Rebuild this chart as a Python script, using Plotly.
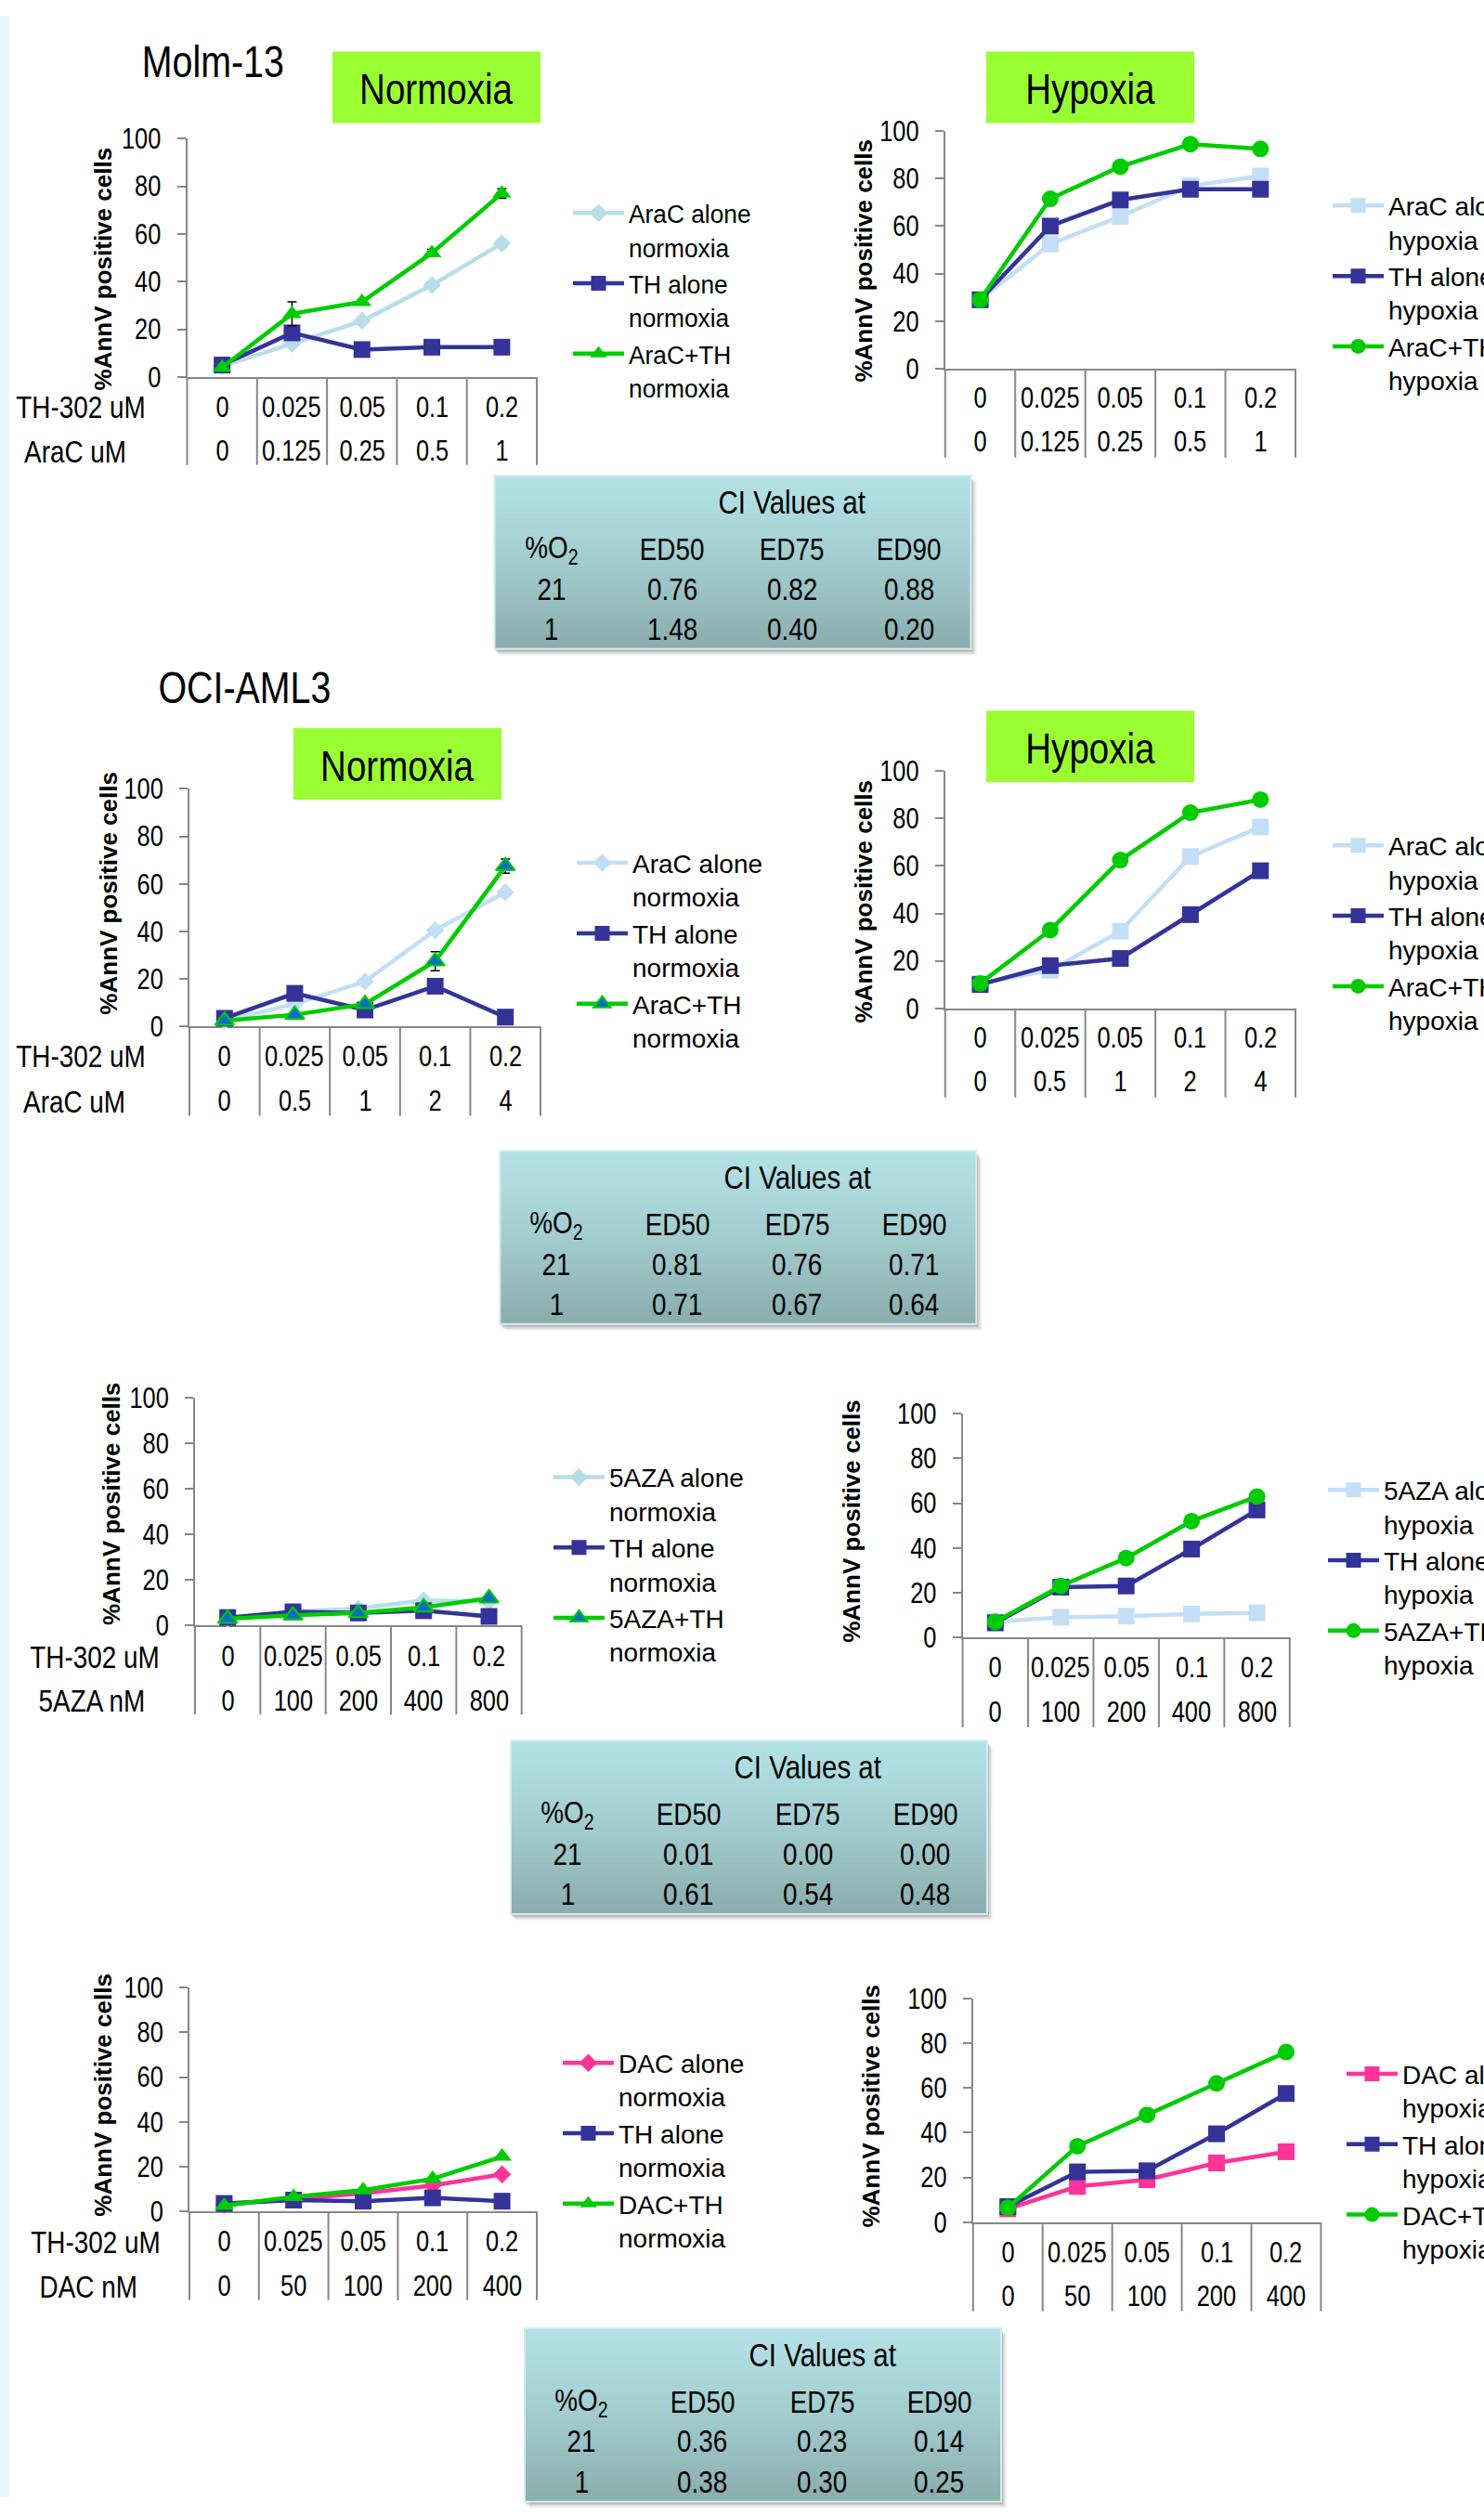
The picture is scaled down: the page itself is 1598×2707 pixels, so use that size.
import plotly.graph_objects as go

W, H = 1598, 2707          # visible page
FW = 1700                  # figure canvas (wider, cropped to the page like the reference)
# text tagged "Narrow" is condensed horizontally (Arial-Narrow-like look) by the post script
NARROW = "Liberation Sans Narrow, Liberation Sans, Arial, sans-serif"
SANS = "Liberation Sans, Arial, sans-serif"
AX = "#878787"
GREEN = "#00CC00"
NAVY = "#333399"
TEAL = "#B7DEE8"
SKY = "#C3DEF7"
PINK = "#FF3399"
ROYAL = "#0070C0"
LIME = "#99FF33"

# ---------------- data ----------------
th302_uM = ["0", "0.025", "0.05", "0.1", "0.2"]
molm_arac_uM = ["0", "0.125", "0.25", "0.5", "1"]
oci_arac_uM = ["0", "0.5", "1", "2", "4"]
aza_nM = ["0", "100", "200", "400", "800"]
dac_nM = ["0", "50", "100", "200", "400"]

molm_norm_arac = [4.5, 14, 23.5, 38.5, 56]
molm_norm_arac_err = [0.5, 0.5, 0.5, 0.5, 1.5]
molm_norm_th = [5, 18.5, 11.5, 12.5, 12.5]
molm_norm_combo = [4, 26.5, 31.5, 52, 77]
molm_norm_combo_err = [0.5, 5, 1, 1.5, 2]

molm_hyp_arac = [29, 52.5, 64, 77, 81]
molm_hyp_th = [29, 60, 71, 75.5, 75.5]
molm_hyp_combo = [29, 71.5, 85, 94.5, 92.5]

oci_norm_arac = [2.5, 9.5, 19, 40.5, 56.5]
oci_norm_th = [3.5, 14, 7, 17, 4]
oci_norm_combo = [2.5, 5, 9.5, 27.5, 67.5]
oci_norm_combo_err = [0.5, 0.5, 0.5, 4, 3]

oci_hyp_arac = [10.5, 16, 32.5, 64, 76.5]
oci_hyp_th = [10, 18, 21, 39.5, 58]
oci_hyp_combo = [10.5, 33, 62.5, 82.5, 88]

aza_norm_aza = [3, 6, 7.5, 11, 10.5]
aza_norm_th = [3.5, 6, 5.5, 6.5, 4]
aza_norm_combo = [3, 4.5, 5.5, 8, 12]

aza_hyp_aza = [7, 9, 9.5, 10.5, 11]
aza_hyp_th = [6.5, 22.5, 23, 39.5, 57]
aza_hyp_combo = [7, 23, 35.5, 52, 63]

dac_norm_dac = [3, 5.5, 8, 11.5, 16.5]
dac_norm_th = [3.5, 5, 4.5, 6, 4.5]
dac_norm_combo = [2.5, 6.5, 9.5, 14.5, 24.5]

dac_hyp_dac = [6, 16, 19, 26.5, 31.5]
dac_hyp_th = [7, 22.5, 23, 39.5, 57.5]
dac_hyp_combo = [6.5, 34, 48, 62, 76]

y_ticks = [0, 20, 40, 60, 80, 100]

ci_header = ["%O<sub>2</sub>", "ED50", "ED75", "ED90"]
ci_o2 = ["21", "1"]
ci_molm = [["0.76", "0.82", "0.88"], ["1.48", "0.40", "0.20"]]
ci_oci = [["0.81", "0.76", "0.71"], ["0.71", "0.67", "0.64"]]
ci_aza = [["0.01", "0.00", "0.00"], ["0.61", "0.54", "0.48"]]
ci_dac = [["0.36", "0.23", "0.14"], ["0.38", "0.30", "0.25"]]


def px(x):
    return x / FW


def py(y):
    return 1 - y / H


SIZES = {"diamond": 15, "square": 18, "triangle-up": 18, "circle": 18}

panels = [
    dict(k=1, box=(201.5, 578, 134, 394, 490), rows=(427, 475), drug=molm_arac_uM,
         row_labels=[("TH-302 uM", 87), ("AraC uM", 81)], ytitle=(111, 276), legend=(618, 215),
         series=[("AraC alone<br>normoxia", molm_norm_arac, molm_norm_arac_err, TEAL, "diamond", TEAL, None),
                 ("TH alone<br>normoxia", molm_norm_th, None, NAVY, "square", NAVY, None),
                 ("AraC+TH<br>normoxia", molm_norm_combo, molm_norm_combo_err, GREEN, "triangle-up", GREEN, None)]),
    dict(k=2, box=(1017.8, 1395, 125.7, 385, 482), rows=(417, 465), drug=molm_arac_uM,
         row_labels=[], ytitle=(930, 267), legend=(1436, 207),
         series=[("AraC alone<br>hypoxia", molm_hyp_arac, None, SKY, "square", SKY, None),
                 ("TH alone<br>hypoxia", molm_hyp_th, None, NAVY, "square", NAVY, None),
                 ("AraC+TH<br>hypoxia", molm_hyp_combo, None, GREEN, "circle", GREEN, None)]),
    dict(k=3, box=(204, 582, 843.3, 1102.7, 1200), rows=(1135, 1184), drug=oci_arac_uM,
         row_labels=[("TH-302 uM", 87), ("AraC uM", 80)], ytitle=(117, 957), legend=(622, 924),
         series=[("AraC alone<br>normoxia", oci_norm_arac, None, SKY, "diamond", SKY, None),
                 ("TH alone<br>normoxia", oci_norm_th, None, NAVY, "square", NAVY, None),
                 ("AraC+TH<br>normoxia", oci_norm_combo, oci_norm_combo_err, GREEN, "triangle-up", ROYAL, GREEN)]),
    dict(k=4, box=(1017.8, 1395, 824, 1082.7, 1180), rows=(1115, 1163), drug=oci_arac_uM,
         row_labels=[], ytitle=(930, 966), legend=(1436, 905),
         series=[("AraC alone<br>hypoxia", oci_hyp_arac, None, SKY, "square", SKY, None),
                 ("TH alone<br>hypoxia", oci_hyp_th, None, NAVY, "square", NAVY, None),
                 ("AraC+TH<br>hypoxia", oci_hyp_combo, None, GREEN, "circle", GREEN, None)]),
    dict(k=5, box=(210, 561.7, 1507.7, 1756, 1853), rows=(1790, 1838), drug=aza_nM,
         row_labels=[("TH-302 uM", 102), ("5AZA nM", 98.5)], ytitle=(120, 1623), legend=(597, 1594),
         series=[("5AZA alone<br>normoxia", aza_norm_aza, None, TEAL, "diamond", TEAL, None),
                 ("TH alone<br>normoxia", aza_norm_th, None, NAVY, "square", NAVY, None),
                 ("5AZA+TH<br>normoxia", aza_norm_combo, None, GREEN, "triangle-up", ROYAL, GREEN)]),
    dict(k=6, box=(1036.6, 1388.8, 1525, 1769, 1867), rows=(1802, 1850), drug=aza_nM,
         row_labels=[], ytitle=(917, 1642), legend=(1431, 1608),
         series=[("5AZA alone<br>hypoxia", aza_hyp_aza, None, SKY, "square", SKY, None),
                 ("TH alone<br>hypoxia", aza_hyp_th, None, NAVY, "square", NAVY, None),
                 ("5AZA+TH<br>hypoxia", aza_hyp_combo, None, GREEN, "circle", GREEN, None)]),
    dict(k=7, box=(204, 578, 2151, 2395, 2492), rows=(2428, 2477), drug=dac_nM,
         row_labels=[("TH-302 uM", 103), ("DAC nM", 94.5)], ytitle=(111, 2268), legend=(607, 2233),
         series=[("DAC alone<br>normoxia", dac_norm_dac, None, PINK, "diamond", PINK, None),
                 ("TH alone<br>normoxia", dac_norm_th, None, NAVY, "square", NAVY, None),
                 ("DAC+TH<br>normoxia", dac_norm_combo, None, GREEN, "triangle-up", GREEN, None)]),
    dict(k=8, box=(1047.8, 1422.4, 2162.7, 2407, 2504), rows=(2440, 2488), drug=dac_nM,
         row_labels=[], ytitle=(938, 2280), legend=(1451, 2245),
         series=[("DAC alone<br>hypoxia", dac_hyp_dac, None, PINK, "square", PINK, None),
                 ("TH alone<br>hypoxia", dac_hyp_th, None, NAVY, "square", NAVY, None),
                 ("DAC+TH<br>hypoxia", dac_hyp_combo, None, GREEN, "circle", GREEN, None)]),
]

fig = go.Figure()
shapes = []
annotations = []
layout = dict(
    width=FW, height=H, margin=dict(l=0, r=0, t=0, b=0),
    paper_bgcolor="white", plot_bgcolor="rgba(0,0,0,0)", showlegend=True,
)


def ann(text, x, y, size, family=NARROW, xref="paper", yref="paper", **kw):
    d = dict(text=text, x=x, y=y, xref=xref, yref=yref, showarrow=False,
             font=dict(family=family, size=size, color="black"),
             xanchor="center", yanchor="middle")
    d.update(kw)
    annotations.append(d)


# left light strip
shapes.append(dict(type="rect", xref="paper", yref="paper", x0=0, x1=px(10), y0=0, y1=1,
                   fillcolor="#EAF5FB", line=dict(width=0), layer="below"))

for p in panels:
    k = p["k"]
    sfx = "" if k == 1 else str(k)
    left, right, top, bottom, lbot = p["box"]
    layout["xaxis" + sfx] = dict(
        domain=[px(left), px(right)], type="category", categoryorder="array",
        categoryarray=th302_uM, range=[-0.5, 4.5], showline=True, linecolor=AX, linewidth=2,
        showticklabels=False, ticks="", showgrid=False, zeroline=False, anchor="y" + sfx,
        layer="below traces", fixedrange=True)
    layout["yaxis" + sfx] = dict(
        domain=[py(bottom), py(top)], range=[0, 100], tickvals=y_ticks, ticks="outside",
        ticklen=9, tickwidth=2, tickcolor=AX, showline=True, linecolor=AX, linewidth=2,
        showgrid=False, zeroline=False, anchor="x" + sfx, ticklabelstandoff=11,
        tickfont=dict(family=NARROW, size=31, color="black"), layer="below traces", fixedrange=True)
    lname = "legend" + sfx
    lx, ly = p["legend"]
    layout[lname] = dict(x=px(lx - 6), y=py(ly - 25), xanchor="left", yanchor="top",
                         bgcolor="rgba(0,0,0,0)", borderwidth=0, valign="top", itemwidth=55,
                         tracegroupgap=0, traceorder="normal",
                         font=dict(family=SANS, size=28, color="black"))
    for name, ys, err, lc, sym, fill, edge in p["series"]:
        mk = dict(symbol=sym, size=SIZES[sym], color=fill,
                  line=dict(color=edge if edge else fill, width=2 if edge else 0))
        tr = go.Scatter(x=th302_uM, y=ys, mode="lines+markers", name=name,
                        line=dict(color=lc, width=4.5), marker=mk, cliponaxis=False,
                        xaxis="x" + sfx, yaxis="y" + sfx, legend=lname)
        if err is not None:
            tr.error_y = dict(type="data", array=err, visible=True, color="black",
                              thickness=1.5, width=5)
        fig.add_trace(tr)
    # table grid lines below the x axis
    ph = bottom - top
    for i in range(6):
        shapes.append(dict(type="line", xref="x" + sfx + " domain", yref="y" + sfx + " domain",
                           x0=i / 5, x1=i / 5, y0=0, y1=-(lbot - bottom) / ph,
                           line=dict(color=AX, width=2)))
    r1, r2 = p["rows"]
    for i in range(5):
        ann(th302_uM[i], i, py(r1), 31, xref="x" + sfx)
        ann(p["drug"][i], i, py(r2), 31, xref="x" + sfx)
    for (txt, cx), ry in zip(p["row_labels"], (r1, r2)):
        ann(txt, px(cx), py(ry), 34)
    tx, ty = p["ytitle"]
    ann("<b>%AnnV positive cells</b>", px(tx), py(ty), 26, family=SANS, textangle=-90)

# cell line titles
ann("Molm-13", px(230), py(50), 48)
ann("OCI-AML3", px(263), py(733), 48)

# condition boxes
for label, (x0, x1, y0, y1) in [("Normoxia", (358, 582, 39, 117)), ("Hypoxia", (1062, 1286, 39, 117)),
                                ("Normoxia", (316, 540, 777, 855)), ("Hypoxia", (1062, 1286, 758, 836))]:
    shapes.append(dict(type="rect", xref="paper", yref="paper", x0=px(x0), x1=px(x1),
                       y0=py(y1), y1=py(y0), fillcolor=LIME, line=dict(width=0)))
    ann(label, px((x0 + x1) / 2), py((y0 + y1) / 2 + 2), 47)


def lerp(c0, c1, t):
    return "rgb(%d,%d,%d)" % tuple(round(a + (b - a) * t) for a, b in zip(c0, c1))


def ci_table(left, top, vals, w=513, h=189):
    for off, alpha in [(7, 0.06), (5, 0.10), (3, 0.14)]:
        shapes.append(dict(type="rect", xref="paper", yref="paper", x0=px(left + off - 2),
                           x1=px(left + w + off - 1), y0=py(top + h + off), y1=py(top + off),
                           fillcolor="rgba(0,0,0,%.2f)" % alpha, line=dict(width=0)))
    n = 40
    c0, c1 = (178, 225, 229), (138, 172, 172)
    for j in range(n):
        t = (j + 0.5) / n
        shapes.append(dict(type="rect", xref="paper", yref="paper", x0=px(left), x1=px(left + w),
                           y0=py(top + (j + 1) * h / n + 0.6), y1=py(top + j * h / n),
                           fillcolor=lerp(c0, c1, t ** 1.3), line=dict(width=0)))
    shapes.append(dict(type="rect", xref="paper", yref="paper", x0=px(left), x1=px(left + w),
                       y0=py(top + h), y1=py(top), line=dict(color="#D5ECEE", width=2)))
    ann("CI Values at", px(left + 320), py(top + 29), 36)
    cols = [61, 191, 320, 446]
    for c, txt in zip(cols, ci_header):
        ann(txt, px(left + c), py(top + 80), 34)
    for r, (o2, row) in enumerate(zip(ci_o2, vals)):
        yy = top + 123 + 44 * r
        ann(o2, px(left + cols[0]), py(yy), 34)
        for c, v in zip(cols[1:], row):
            ann(v, px(left + c), py(yy), 34)


ci_table(532.5, 501.7, ci_molm)
ci_table(538.3, 1238.3, ci_oci)
ci_table(550, 1881.7, ci_aza)
ci_table(565, 2522.7, ci_dac)

layout["shapes"] = shapes
layout["annotations"] = annotations
fig.update_layout(**layout)
post = (
    "document.body.style.margin='0px';document.body.style.overflow='hidden';"
    "document.documentElement.style.overflow='hidden';"
    "var gdv=document.querySelector('.plotly-graph-div');"
    "if(gdv){gdv.style.width='" + str(W) + "px';gdv.style.overflow='hidden';"
    "if(gdv.parentElement){gdv.parentElement.style.width='" + str(W) + "px';gdv.parentElement.style.overflow='hidden';}}"
    "function sx(t,s){var x=parseFloat(t.getAttribute('x'))||0;"
    "var tr=t.getAttribute('transform')||'';"
    "t.setAttribute('transform',tr+' translate('+x+',0) scale('+s+',1) translate('+(-x)+',0)');}"
    "document.querySelectorAll('text').forEach(function(t){"
    "var f=t.style.fontFamily||'';"
    "if(t.classList.contains('legendtext')){sx(t,0.94);}"
    "else if(f.indexOf('Narrow')>=0){sx(t,0.82);}});"
)
fig.write_html("out.html", post_script=post, config={"displayModeBar": False})
